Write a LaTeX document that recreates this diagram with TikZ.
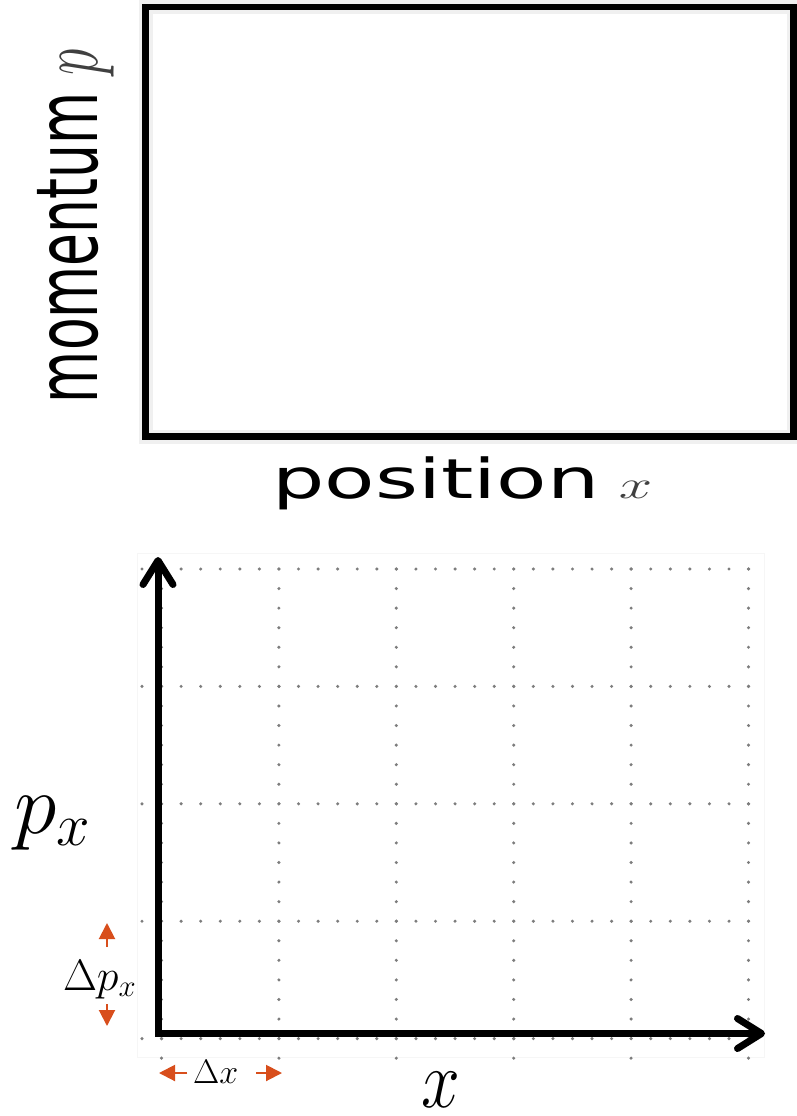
\RequirePackage{fix-cm}
\documentclass[tikz,border=0pt]{standalone}
\usepackage{fontspec}
\newfontfamily\labelsans{DejaVu Sans}
\usetikzlibrary{arrows.meta}
\definecolor{deltaorange}{RGB}{216,78,28}
\definecolor{dotgray}{RGB}{125,125,125}
\begin{document}
\begin{tikzpicture}[x=1pt,y=-1pt,
  lbl/.style={anchor=base west,inner sep=0pt,outer sep=0pt},
  griddot/.style={fill=dotgray},
  axisline/.style={line width=7pt,line join=miter,
    {Straight Barb[length=24pt,width=30pt,line cap=round,line join=round]}-{Straight Barb[length=24pt,width=30pt,line cap=round,line join=round]}},
  deltaarrow/.style={draw=deltaorange,line width=2pt,-{Triangle[length=16pt,width=16pt]},fill=deltaorange}]
\useasboundingbox (0,0) rectangle (796,1116);
\fill[white] (0,0) rectangle (796,1116);
% ---------- top panel ----------
\draw[gray!12,line width=14pt] (145.5,7) rectangle (793.5,436.5);
\draw[black,line width=6.5pt] (145.5,7) rectangle (793.5,436.5);
\node[lbl,rotate=90] (ylab) at (97,403)
  {\scalebox{1}[1.6]{\labelsans\fontsize{53.5}{60}\selectfont momentum {\color{black!75}$p$}}};
\node[lbl] (xlab) at (272.5,498)
  {\scalebox{1.5}[1]{\labelsans\fontsize{55}{60}\selectfont position\hspace{13pt}{\fontsize{40}{44}\selectfont\color{black!75}$x$}}};
% ---------- bottom panel ----------
\draw[gray!7,line width=1pt] (137,553) rectangle (764,1057);
\foreach \j in {0,...,4}
  \foreach \k in {0,...,31}
    \fill[griddot] ({142+19.567*\k},{569+117.4*\j}) circle (1.7);
\foreach \i in {0,...,5}
  \foreach \k in {0,...,25}
    \fill[griddot] ({161.5+117.4*\i},{569+19.567*\k}) circle (1.7);
\coordinate (ytip) at (158,557);
\coordinate (xtip) at (765,1033.5);
\draw[axisline] (ytip) |- (xtip);
\node[lbl] (px) at (14,833) {\fontsize{86}{90}\selectfont$p_x$};
\node[lbl] (xx) at (421,1107) {\fontsize{82}{88}\selectfont\scalebox{0.85}[1]{$x$}};
\node[lbl] (dpx) at (63,990) {\fontsize{44}{48}\selectfont$\Delta p_x$};
\node[lbl] (dx) at (193,1083) {\fontsize{34}{38}\selectfont$\Delta x$};
\coordinate (upA) at (107,947);  \coordinate (upB) at (107,923);
\coordinate (dnA) at (107,1004); \coordinate (dnB) at (107,1026);
\coordinate (lfA) at (187,1073); \coordinate (lfB) at (159,1073);
\coordinate (rtA) at (256,1073); \coordinate (rtB) at (282,1073);
\draw[deltaarrow] (upA) -- (upB);
\draw[deltaarrow] (dnA) -- (dnB);
\draw[deltaarrow] (lfA) -- (lfB);
\draw[deltaarrow] (rtA) -- (rtB);
\end{tikzpicture}
\end{document}
